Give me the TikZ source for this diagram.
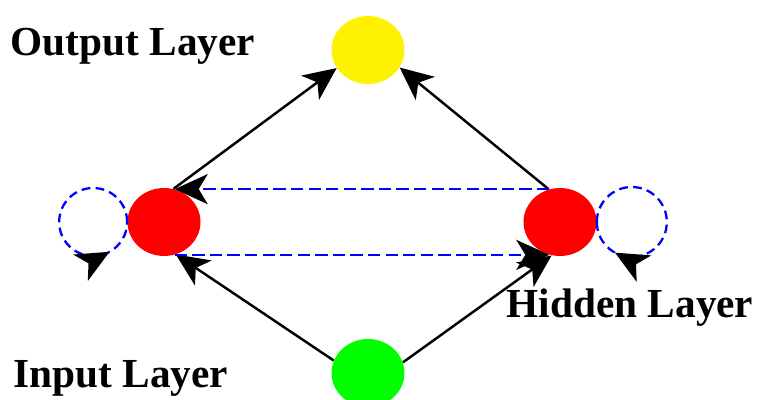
\documentclass[tikz,border=0pt]{standalone}
\usepackage{fontspec}
\setmainfont{Liberation Serif}
\usetikzlibrary{arrows.meta,%
                shapes.geometric,decorations.markings}
\begin{document}
\begin{tikzpicture}[x=0.02cm,y=0.02cm,
  >={Stealth[length=6.6mm,width=6mm,inset=1.8mm,black]},
  layer/.style={ellipse,minimum width=1.46cm,minimum height=1.36cm,inner sep=0pt},
  link/.style={->,black,line width=1.4pt},
  back/.style={->,blue,line width=1.3pt,dash pattern=on 7pt off 3pt},
  selfloop/.style={blue,line width=1.3pt,dash pattern=on 5pt off 3pt,postaction={decorate},
    decoration={markings,mark=at position 0.83 with {\arrow{>}}}},
  lbl/.style={font=\bfseries\fontsize{23.5}{27}\selectfont,anchor=base}]
\useasboundingbox (0,0) rectangle (757,399);
\node[layer,fill=yellow] (Y) at (368,349) {};
\node[layer,fill=red] (L) at (164,177) {};
\node[layer,fill=red] (R) at (560,177) {};
\node[layer,fill=green] (G) at (368,26) {};
\draw[link] (L.74) -- (Y.210);
\draw[link] (R.109) -- (Y.331);
\draw[link] (G.160) -- (L.290);
\draw[link] (G.17) -- (R.256);
\draw[back] (R.108) -- (L.72);
\draw[back] (L.288) -- (R.252);
\draw[selfloop] (L.west) arc[start angle=0,end angle=360,radius=0.68cm];
\draw[selfloop] (R.east) arc[start angle=180,end angle=-180,radius=0.7cm];
\node[lbl] (out) at (133,343) {Output Layer};
\node[lbl] (hid) at (630,82) {Hidden Layer};
\node[lbl] (inp) at (121,12) {Input Layer};
\end{tikzpicture}
\end{document}
